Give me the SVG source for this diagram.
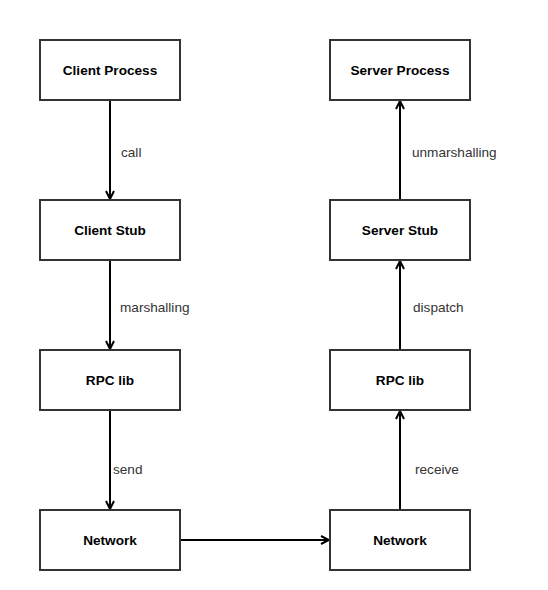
<svg xmlns="http://www.w3.org/2000/svg" width="548" height="590" viewBox="0 0 548 590">
<style>
.box{fill:#fff;stroke:#333;stroke-width:2}
.nl{font-family:"Liberation Sans",Arial,sans-serif;font-size:13.6px;font-weight:bold;fill:#000;text-anchor:middle;dominant-baseline:central}
.el{font-family:"Liberation Sans",Arial,sans-serif;font-size:13.6px;fill:#333;dominant-baseline:central}
.ed{stroke:#000;stroke-width:2;fill:none;marker-end:url(#arr)}
</style>
<defs>
<marker id="arr" viewBox="0 0 10 10" refX="9" refY="5" markerWidth="10" markerHeight="10" markerUnits="userSpaceOnUse" orient="auto">
<path d="M1,1 L9,5 L1,9" fill="none" stroke="#000" stroke-width="2"/>
</marker>
</defs>
<rect width="548" height="590" fill="#fff"/>
<g id="connectors">
<line class="ed" x1="110" y1="100" x2="110" y2="199"/>
<line class="ed" x1="110" y1="260" x2="110" y2="349"/>
<line class="ed" x1="110" y1="410" x2="110" y2="509"/>
<line class="ed" x1="180" y1="540" x2="329" y2="540"/>
<line class="ed" x1="400" y1="510" x2="400" y2="411"/>
<line class="ed" x1="400" y1="350" x2="400" y2="261"/>
<line class="ed" x1="400" y1="200" x2="400" y2="101"/>
<text class="el" x="121" y="152">call</text>
<text class="el" x="120" y="307">marshalling</text>
<text class="el" x="113" y="469">send</text>
<text class="el" x="412" y="152">unmarshalling</text>
<text class="el" x="413" y="307">dispatch</text>
<text class="el" x="415" y="469">receive</text>
</g>
<g id="client-process"><rect class="box" x="40" y="40" width="140" height="60"/><text class="nl" x="110" y="70">Client Process</text></g>
<g id="client-stub"><rect class="box" x="40" y="200" width="140" height="60"/><text class="nl" x="110" y="230">Client Stub</text></g>
<g id="rpc-lib-client"><rect class="box" x="40" y="350" width="140" height="60"/><text class="nl" x="110" y="380">RPC lib</text></g>
<g id="network-client"><rect class="box" x="40" y="510" width="140" height="60"/><text class="nl" x="110" y="540">Network</text></g>
<g id="server-process"><rect class="box" x="330" y="40" width="140" height="60"/><text class="nl" x="400" y="70">Server Process</text></g>
<g id="server-stub"><rect class="box" x="330" y="200" width="140" height="60"/><text class="nl" x="400" y="230">Server Stub</text></g>
<g id="rpc-lib-server"><rect class="box" x="330" y="350" width="140" height="60"/><text class="nl" x="400" y="380">RPC lib</text></g>
<g id="network-server"><rect class="box" x="330" y="510" width="140" height="60"/><text class="nl" x="400" y="540">Network</text></g>
</svg>
